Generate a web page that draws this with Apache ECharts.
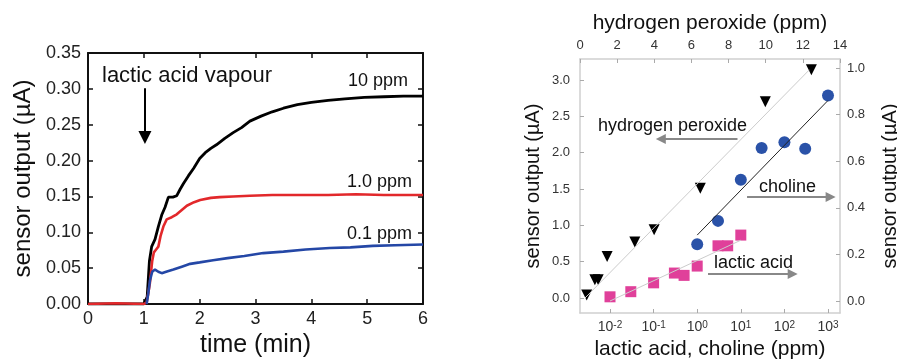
<!DOCTYPE html>
<html>
<head>
<meta charset="utf-8">
<script src="https://cdn.jsdelivr.net/npm/echarts@6/dist/echarts.min.js"></script>
<style>
  html, body { margin: 0; padding: 0; background: #fff; }
  #chart { width: 897px; height: 359px; }
</style>
</head>
<body>
<div id="chart"></div>
<script>
// left panel: sensor response vs time for three lactic acid concentrations
const tenPpmTime = [0, 0.5, 1.0, 1.06, 1.1, 1.14, 1.2, 1.26, 1.32, 1.38, 1.44, 1.52, 1.59, 1.65, 1.71, 1.8, 1.89, 2.0, 2.1, 2.2, 2.3, 2.45, 2.6, 2.75, 2.9, 3.1, 3.3, 3.5, 3.75, 4.0, 4.3, 4.6, 4.95, 5.3, 5.65, 6.0];
const tenPpmOutput = [0, 0, 0, 0.01, 0.06, 0.08, 0.09, 0.108, 0.124, 0.135, 0.149, 0.149, 0.151, 0.16, 0.168, 0.179, 0.189, 0.203, 0.211, 0.217, 0.222, 0.231, 0.239, 0.246, 0.255, 0.262, 0.268, 0.273, 0.278, 0.281, 0.284, 0.286, 0.288, 0.289, 0.29, 0.29];

const onePpmTime = [0, 0.5, 1.0, 1.05, 1.08, 1.11, 1.15, 1.18, 1.22, 1.26, 1.3, 1.35, 1.41, 1.5, 1.59, 1.68, 1.77, 1.9, 2.01, 2.2, 2.36, 2.6, 2.9, 3.3, 3.8, 4.3, 4.8, 5.3, 6.0];
const onePpmOutput = [0, 0.001, 0, 0.002, 0.015, 0.03, 0.06, 0.072, 0.076, 0.08, 0.095, 0.108, 0.118, 0.121, 0.125, 0.131, 0.137, 0.142, 0.145, 0.148, 0.149, 0.15, 0.151, 0.152, 0.152, 0.152, 0.153, 0.152, 0.152];

const tenthPpmTime = [1.05, 1.08, 1.11, 1.15, 1.2, 1.26, 1.32, 1.4, 1.53, 1.68, 1.83, 2.0, 2.24, 2.5, 2.8, 3.14, 3.5, 3.9, 4.33, 4.7, 5.1, 5.5, 6.0];
const tenthPpmOutput = [0, 0.015, 0.033, 0.045, 0.048, 0.045, 0.043, 0.045, 0.048, 0.052, 0.056, 0.058, 0.061, 0.064, 0.067, 0.071, 0.073, 0.076, 0.078, 0.079, 0.081, 0.082, 0.083];

// right panel: calibration points
const peroxidePpm = [0.36, 0.8, 0.98, 1.46, 2.95, 3.99, 6.48, 9.98, 12.46];
const peroxideOutput = [0.04, 0.25, 0.25, 0.57, 0.77, 0.94, 1.51, 2.70, 3.14];
const peroxideFitPpm = [0.27, 12.35];
const peroxideFitOutput = [0.0, 3.14];

const cholinePpm = [1, 3, 10, 30, 100, 300, 1000];
const cholineOutput = [0.244, 0.344, 0.521, 0.657, 0.682, 0.654, 0.882];
const cholineFitPpm = [1, 1000];
const cholineFitOutput = [0.283, 0.861];

const lacticPpm = [0.01, 0.03, 0.1, 0.3, 0.5, 1, 3, 5, 10];
const lacticOutput = [0.018, 0.04, 0.078, 0.12, 0.11, 0.15, 0.237, 0.237, 0.283];
const lacticFitPpm = [0.01, 10];
const lacticFitOutput = [0.0, 0.261];

const logTicks = [0.01, 0.1, 1, 10, 100, 1000];
const leftOutputTicks = [0, 0.5, 1.0, 1.5, 2.0, 2.5, 3.0];
const rightOutputTicks = [0, 0.2, 0.4, 0.6, 0.8, 1.0];

const FONT = "Liberation Sans, Arial, sans-serif";
const zip = (xs, ys) => xs.map((x, i) => [x, ys[i]]);

const chart = echarts.init(document.getElementById("chart"), null, { renderer: "canvas" });

const blackAxis = { onZero: false, lineStyle: { color: "#111", width: 2 } };
const blackTick = { inside: true, length: 5, lineStyle: { color: "#111", width: 1.5 } };
const grayAxis = { onZero: false, lineStyle: { color: "#cfcfcf", width: 1.5 } };
const grayTick = (values) => ({ inside: true, length: 4, customValues: values, lineStyle: { color: "#aaa", width: 1 } });

const arrow = (from, to, color, size, width) => ({
  silent: true,
  animation: false,
  symbol: ["none", "triangle"],
  symbolSize: size,
  label: { show: false },
  lineStyle: { color, width, type: "solid" },
  emphasis: { disabled: true },
  data: [[{ coord: from }, { coord: to }]],
});

const option = {
  animation: false,
  backgroundColor: "#fff",
  textStyle: { fontFamily: FONT },
  grid: [
    { left: 88, top: 53, width: 335, height: 251, outerBoundsMode: "none" },
    { left: 580, top: 59, width: 260, height: 254, outerBoundsMode: "none" },
  ],
  xAxis: [
    {
      gridIndex: 0, type: "value", min: 0, max: 6, interval: 1,
      axisLine: blackAxis, axisTick: blackTick, splitLine: { show: false },
      axisLabel: { fontSize: 18, color: "#222", margin: 6, fontFamily: FONT },
      name: "time (min)", nameLocation: "middle", nameGap: 26,
      nameTextStyle: { fontSize: 25, color: "#111", fontFamily: FONT },
    },
    {
      gridIndex: 0, type: "value", position: "top", min: 0, max: 6, interval: 1,
      axisLine: blackAxis, axisTick: blackTick, axisLabel: { show: false }, splitLine: { show: false },
    },
    {
      gridIndex: 1, type: "log", min: 0.00205, max: 1884, position: "bottom",
      axisLine: grayAxis, axisTick: grayTick(logTicks), splitLine: { show: false },
      minorTick: { show: false },
      axisLabel: {
        customValues: logTicks, margin: 7, color: "#333",
        formatter: (v) => "{b|10}{s|" + Math.round(Math.log10(v)) + "}",
        rich: {
          b: { fontSize: 14, fontFamily: FONT, color: "#333" },
          s: { fontSize: 10, fontFamily: FONT, color: "#333", verticalAlign: "top" },
        },
      },
      name: "lactic acid, choline (ppm)", nameLocation: "middle", nameGap: 24,
      nameTextStyle: { fontSize: 21, color: "#111", fontFamily: FONT },
    },
    {
      gridIndex: 1, type: "value", position: "top", min: 0, max: 14, interval: 2,
      axisLine: grayAxis, axisTick: { inside: true, length: 4, lineStyle: { color: "#aaa" } },
      splitLine: { show: false },
      axisLabel: { fontSize: 13, color: "#333", margin: 7, fontFamily: FONT },
      name: "hydrogen peroxide (ppm)", nameLocation: "middle", nameGap: 20,
      nameTextStyle: { fontSize: 21, color: "#111", fontFamily: FONT },
    },
  ],
  yAxis: [
    {
      gridIndex: 0, type: "value", min: 0, max: 0.35, interval: 0.05,
      axisLine: blackAxis, axisTick: blackTick, splitLine: { show: false },
      axisLabel: { fontSize: 18, color: "#222", margin: 7, fontFamily: FONT, formatter: (v) => v.toFixed(2) },
      name: "sensor output (µA)", nameLocation: "middle", nameGap: 53, nameRotate: 90,
      nameTextStyle: { fontSize: 24, color: "#111", fontFamily: FONT },
    },
    {
      gridIndex: 0, type: "value", position: "right", min: 0, max: 0.35, interval: 0.05,
      axisLine: blackAxis, axisTick: blackTick, axisLabel: { show: false }, splitLine: { show: false },
    },
    {
      gridIndex: 1, type: "value", min: -0.206, max: 3.289,
      axisLine: grayAxis, axisTick: grayTick(leftOutputTicks), splitLine: { show: false },
      axisLabel: { customValues: leftOutputTicks, fontSize: 13, color: "#333", margin: 10, fontFamily: FONT, formatter: (v) => v.toFixed(1) },
      name: "sensor output (µA)", nameLocation: "middle", nameGap: 37, nameRotate: 90,
      nameTextStyle: { fontSize: 20, color: "#111", fontFamily: FONT },
    },
    {
      gridIndex: 1, type: "value", position: "right", min: -0.0515, max: 1.039,
      axisLine: grayAxis, axisTick: grayTick(rightOutputTicks), splitLine: { show: false },
      axisLabel: { customValues: rightOutputTicks, fontSize: 13, color: "#333", margin: 7, fontFamily: FONT, formatter: (v) => v.toFixed(1) },
      name: "sensor output (µA)", nameLocation: "middle", nameGap: 40, nameRotate: 90,
      nameTextStyle: { fontSize: 20, color: "#111", fontFamily: FONT },
    },
  ],
  series: [
    {
      name: "10 ppm", type: "line", xAxisIndex: 0, yAxisIndex: 0, showSymbol: false,
      data: zip(tenPpmTime, tenPpmOutput), lineStyle: { color: "#000", width: 2.8 },
      markLine: arrow([1.02, 0.301], [1.02, 0.232], "#000", 13, 2),
    },
    {
      name: "1.0 ppm", type: "line", xAxisIndex: 0, yAxisIndex: 0, showSymbol: false,
      data: zip(onePpmTime, onePpmOutput), lineStyle: { color: "#e2282b", width: 2.6 },
    },
    {
      name: "0.1 ppm", type: "line", xAxisIndex: 0, yAxisIndex: 0, showSymbol: false,
      data: zip(tenthPpmTime, tenthPpmOutput), lineStyle: { color: "#2447a6", width: 2.6 },
    },
    {
      name: "peroxide fit", type: "line", xAxisIndex: 3, yAxisIndex: 2, showSymbol: false, silent: true,
      data: zip(peroxideFitPpm, peroxideFitOutput), lineStyle: { color: "#cccccc", width: 1 },
      markLine: arrow([8.48, 2.188], [4.35, 2.188], "#888", 10, 1.8),
    },
    {
      name: "choline fit", type: "line", xAxisIndex: 2, yAxisIndex: 3, showSymbol: false, silent: true,
      data: zip(cholineFitPpm, cholineFitOutput), lineStyle: { color: "#222", width: 1 },
      markLine: arrow([13.9, 0.446], [1150, 0.446], "#888", 10, 1.8),
    },
    {
      name: "lactic fit", type: "line", xAxisIndex: 2, yAxisIndex: 3, showSymbol: false, silent: true,
      data: zip(lacticFitPpm, lacticFitOutput), lineStyle: { color: "#cccccc", width: 1 },
      markLine: arrow([1.77, 0.116], [155, 0.116], "#888", 10, 1.8),
    },
    {
      name: "hydrogen peroxide", type: "scatter", xAxisIndex: 3, yAxisIndex: 2,
      symbol: "triangle", symbolRotate: 180, symbolSize: 11,
      data: zip(peroxidePpm, peroxideOutput), itemStyle: { color: "#000", opacity: 1 },
    },
    {
      name: "choline", type: "scatter", xAxisIndex: 2, yAxisIndex: 3,
      symbol: "circle", symbolSize: 12,
      data: zip(cholinePpm, cholineOutput), itemStyle: { color: "#2a52a8", opacity: 1 },
    },
    {
      name: "lactic acid", type: "scatter", xAxisIndex: 2, yAxisIndex: 3,
      symbol: "rect", symbolSize: 11,
      data: zip(lacticPpm, lacticOutput), itemStyle: { color: "#e0409a", opacity: 1 },
    },
  ],
  graphic: [
    { type: "text", x: 102, y: 76, style: { text: "lactic acid vapour", fontSize: 22, fontFamily: FONT, fill: "#111", verticalAlign: "middle" } },
    { type: "text", x: 348, y: 81, style: { text: "10 ppm", fontSize: 18, fontFamily: FONT, fill: "#111", verticalAlign: "middle" } },
    { type: "text", x: 347, y: 182, style: { text: "1.0 ppm", fontSize: 18, fontFamily: FONT, fill: "#111", verticalAlign: "middle" } },
    { type: "text", x: 347, y: 234, style: { text: "0.1 ppm", fontSize: 18, fontFamily: FONT, fill: "#111", verticalAlign: "middle" } },
    { type: "text", x: 598, y: 126, style: { text: "hydrogen peroxide", fontSize: 18, fontFamily: FONT, fill: "#111", verticalAlign: "middle" } },
    { type: "text", x: 759, y: 187, style: { text: "choline", fontSize: 18, fontFamily: FONT, fill: "#111", verticalAlign: "middle" } },
    { type: "text", x: 714, y: 263, style: { text: "lactic acid", fontSize: 18, fontFamily: FONT, fill: "#111", verticalAlign: "middle" } },
  ],
};

chart.setOption(option);
</script>
</body>
</html>
